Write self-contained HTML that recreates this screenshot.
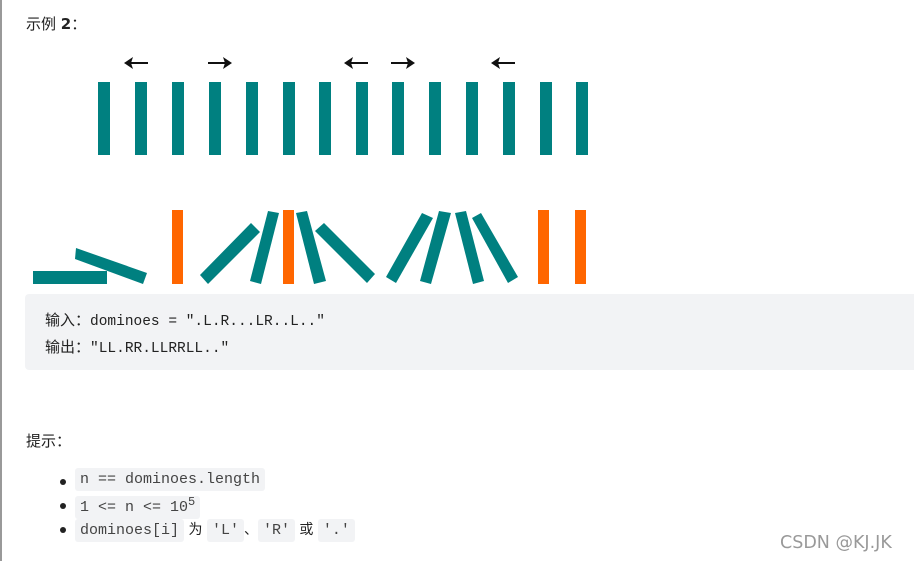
<!DOCTYPE html>
<html><head><meta charset="utf-8"><style>
body{margin:0;width:914px;height:561px;background:#fff;position:relative;overflow:hidden;font-family:"DejaVu Sans","Noto Sans CJK SC",sans-serif;color:#222;}
.a{position:absolute;white-space:nowrap}
.box{position:absolute;left:25px;top:294px;width:895px;height:76px;background:#f2f3f5;border-radius:4px}
.c{background:#f2f3f5;border-radius:3px;padding:3px 5px;font-family:"Liberation Mono",monospace;color:#444;font-size:15px}
.m{font-family:"Liberation Mono",monospace;font-size:14.5px}
.li{position:absolute;left:60px;font-size:14px}
.li:before{content:"";position:absolute;left:0;top:8px;width:6px;height:6px;border-radius:50%;background:#222}
.li span.t{position:absolute;left:15px;top:0;white-space:nowrap}
</style></head><body>
<div style="position:absolute;left:0;top:0;width:2px;height:561px;background:#999"></div>
<div class="a" style="left:26px;top:13px;font-size:15px">示例 <b>2</b>：</div>
<svg class="a" style="left:0;top:0" width="914" height="300">
<g fill="#008080">
<rect x="98" y="82" width="12" height="73"/><rect x="135" y="82" width="12" height="73"/><rect x="172" y="82" width="12" height="73"/><rect x="209" y="82" width="12" height="73"/><rect x="246" y="82" width="12" height="73"/><rect x="283" y="82" width="12" height="73"/><rect x="319" y="82" width="12" height="73"/><rect x="356" y="82" width="12" height="73"/><rect x="392" y="82" width="12" height="73"/><rect x="429" y="82" width="12" height="73"/><rect x="466" y="82" width="12" height="73"/><rect x="503" y="82" width="12" height="73"/><rect x="540" y="82" width="12" height="73"/><rect x="576" y="82" width="12" height="73"/>
<rect x="33" y="271" width="74" height="13"/>
<polygon points="76,248 147,273 143,284 75,259"/>
<polygon points="200,275 251,223 260,232 208,284"/>
<polygon points="250,281 268,211 279,213 261,284"/>
<polygon points="296,213 307,211 326,281 314,284"/>
<polygon points="315,231 324,223 375,274 367,283"/>
<polygon points="386,277 422,213 433,218 396,283"/>
<polygon points="420,281 439,211 451,213 431,284"/>
<polygon points="455,213 466,211 484,281 473,284"/>
<polygon points="472,218 481,213 518,277 508,283"/>
</g>
<g fill="#ff6600">
<rect x="172" y="210" width="11" height="74"/><rect x="283" y="210" width="11" height="74"/><rect x="538" y="210" width="11" height="74"/><rect x="575" y="210" width="11" height="74"/>
</g>
<g stroke="#111" stroke-width="2" fill="#111">
<path d="M130,63H148M208,63H226M350,63H368M391,63H409M497,63H515"/>
</g>
<g fill="#111">
<polygon points="124,63 133,57 131,63 133,69"/>
<polygon points="232,63 223,57 225,63 223,69"/>
<polygon points="344,63 353,57 351,63 353,69"/>
<polygon points="415,63 406,57 408,63 406,69"/>
<polygon points="491,63 500,57 498,63 500,69"/>
</g>
</svg>
<div class="box"></div>
<div class="a" style="left:45px;top:309px;font-size:15px">输入：<span class="m">dominoes = ".L.R...LR..L.."</span></div>
<div class="a" style="left:45px;top:336px;font-size:15px">输出：<span class="m">"LL.RR.LLRRLL.."</span></div>
<div class="a" style="left:26px;top:430px;font-size:15px">提示：</div>
<div class="li" style="top:471px"><span class="t"><span class="c">n == dominoes.length</span></span></div>
<div class="li" style="top:495px"><span class="t"><span class="c">1 &lt;= n &lt;= 10<sup style="font-size:12px">5</sup></span></span></div>
<div class="li" style="top:519px"><span class="t"><span class="c">dominoes[i]</span> 为 <span class="c">'L'</span>、<span class="c">'R'</span> 或 <span class="c">'.'</span></span></div>
<div class="a" style="left:780px;top:533px;font-size:17.5px;color:#999">CSDN @KJ.JK</div>
</body></html>
